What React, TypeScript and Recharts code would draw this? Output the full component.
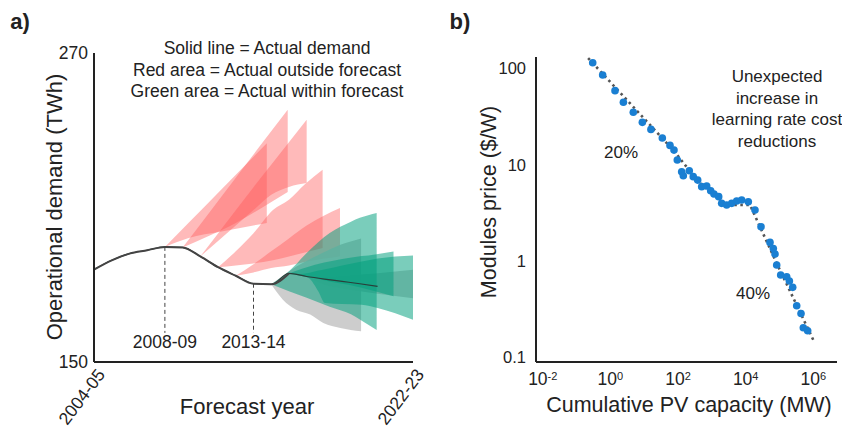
import {
  ComposedChart,
  Area,
  Line,
  Scatter,
  XAxis,
  YAxis,
  ReferenceLine,
} from 'recharts';

// ---------- panel a: demand forecasts ----------
// x = years since 2004-05, values in TWh
const yearTicks = ['2004-05', '2022-23'];
const actualDemand = [
  185.9, 189.5, 192.1, 193.4, 194.7, 194.5, 191.0, 186.8, 183.5, 180.4, 180.2, 184.4, 183.2,
  182.2, 181.3, 180.4, 179.4,
];

// [x, low, high]
const red1 = [[4, 194.7, 194.7], [5.3, 198.1, 203.8], [7.2, 200.7, 217.1], [9.75, 204, 235]];
const red2 = [[5, 194.5, 194.5], [6.5, 199, 208], [8, 204, 221.6], [9.5, 210, 235.1], [10.93, 216, 248]];
const red3 = [[6, 191, 191], [7, 197, 199.9], [8, 203, 208.9], [9, 209, 217.9], [10, 215, 226.6], [11, 218, 235.3], [12, 219.5, 244.1]];
const red4 = [[7, 186.8, 186.8], [8, 187.5, 193], [9, 188.3, 200], [10.1, 189.5, 209], [11, 191, 213], [11.9, 192.5, 219], [12.9, 194.3, 224.7]];
const red5 = [[8, 183.5, 183.5], [9, 184.8, 188], [10, 186.5, 193], [11, 187.5, 198], [12, 189, 203], [13.88, 191, 209.8]];
const grey1 = [[10, 180.2, 180.2], [10.66, 174.2, 183.5], [11.4, 170.3, 187], [12.2, 168.4, 190], [12.94, 165.1, 192.5], [13.9, 163.2, 195.5], [15.07, 161.9, 198]];
const grey2 = [[12, 183.2, 183.2], [13, 180, 183], [14, 178.5, 183.5], [16, 176.5, 184.5], [18, 174.8, 185.8]];
const green1 = [[10, 180.2, 180.2], [11, 177.5, 185.2], [12, 175, 192.3], [13.3, 171.5, 200.1], [14.5, 168.5, 204.5], [15, 166.5, 206], [15.95, 162.4, 207.9]];
const green2 = [[11.3, 184, 184], [12.1, 182.6, 184.6], [12.66, 177.4, 185.5], [13.04, 172.9, 186], [14, 172.5, 187.5], [15.1, 172.2, 189], [16, 171, 190.2], [18, 166.4, 191.4]];
const green3 = [[11, 184.4, 184.4], [12.47, 182.5, 187.8], [13.5, 181, 189.3], [14.35, 180, 190.4], [15.86, 177.5, 191.7], [16.9, 175.5, 192.9]];

const RED = '#ff5a5a';
const GREEN = '#00a07c';
const GREY = '#c4c4c4';

const bands = [
  { key: 'red1', pts: red1, fill: RED, op: 0.42 },
  { key: 'red2', pts: red2, fill: RED, op: 0.42 },
  { key: 'red3', pts: red3, fill: RED, op: 0.42 },
  { key: 'red4', pts: red4, fill: RED, op: 0.42 },
  { key: 'red5', pts: red5, fill: RED, op: 0.42 },
  { key: 'grey1', pts: grey1, fill: GREY, op: 0.85 },
  { key: 'grey2', pts: grey2, fill: GREY, op: 0.85 },
  { key: 'green1', pts: green1, fill: GREEN, op: 0.52 },
  { key: 'green2', pts: green2, fill: GREEN, op: 0.52 },
  { key: 'green3', pts: green3, fill: GREEN, op: 0.52 },
];

const buildRows = () => {
  const xs = new Set<number>();
  actualDemand.forEach((_, i) => xs.add(i));
  bands.forEach((b) => b.pts.forEach((p) => xs.add(p[0])));
  return [...xs]
    .sort((a, b) => a - b)
    .map((x) => {
      const row: Record<string, any> = { x };
      if (Number.isInteger(x) && x < actualDemand.length) {
        row.actual = actualDemand[x];
        if (x <= 11) row.actualTop = actualDemand[x];
      }
      bands.forEach((b) => {
        const p = b.pts.find((q) => q[0] === x);
        if (p) row[b.key] = [p[1], p[2]];
      });
      return row;
    });
};
const demandRows = buildRows();

// ---------- panel b: PV learning curve ----------
// cumulative capacity (MW) vs module price ($/W)
const pvCapacity = [
  0.3, 0.59, 1.37, 2.42, 4.75, 8.8, 15.8, 34.3, 57.8, 75.9, 95, 128, 143, 215, 282, 381, 500, 703,
  923, 1156, 1592, 1950, 2742, 3855, 5420, 7620, 11970, 18840, 28380, 52360, 65610, 73620, 82600,
  108400, 163300, 195900, 245500, 322800, 432500, 505800, 680700,
];
const pvPrice = [
  115, 85.7, 58.9, 44.6, 35.1, 27.6, 23.3, 19.0, 15.9, 14.2, 11.2, 8.47, 7.69, 8.67, 7.52, 6.93,
  5.92, 6.01, 5.37, 4.97, 4.66, 3.97, 3.82, 3.97, 4.2, 4.31, 4.13, 3.39, 2.27, 1.56, 1.35, 1.18,
  0.908, 0.714, 0.685, 0.619, 0.532, 0.343, 0.285, 0.202, 0.188,
];
const trendCapacity = [0.126, 72.4, 397, 2748, 13430, 82600, 1000000];
const trendPrice = [158.5, 14.2, 6.67, 3.82, 3.82, 0.946, 0.151];
const pvTicks = [0.01, 1, 100, 10000, 1000000];
const priceTicks = [0.1, 1, 10, 100];

const pvPoints = pvCapacity.map((x, i) => ({ x, y: pvPrice[i] }));
const trendPoints = trendCapacity.map((x, i) => ({ x, y: trendPrice[i] }));

const FONT = '"Liberation Sans", Arial, sans-serif';
const INK = '#222';

const YearTick = ({ x, y, payload }: any) => {
  const label = payload.value === 0 ? yearTicks[0] : yearTicks[1];
  const ax = x + 7;
  const ay = y + 1;
  return (
    <text
      x={ax}
      y={ay}
      dy="0.35em"
      textAnchor="end"
      transform={`rotate(-53, ${ax}, ${ay})`}
      fontSize={17.5}
      fill={INK}
      fontFamily={FONT}
    >
      {label}
    </text>
  );
};

const PowTick = ({ x, y, payload }: any) => {
  const exp = Math.round(Math.log10(payload.value));
  return (
    <text x={x} y={y + 15} textAnchor="middle" fontSize={17.5} fill={INK} fontFamily={FONT}>
      <tspan>10</tspan>
      <tspan dy={-5.5} fontSize={11}>
        {exp}
      </tspan>
    </text>
  );
};

const Dot = (props: any) => <circle cx={props.cx} cy={props.cy} r={3.8} fill="#1a7fd2" />;

const txt = (
  x: number,
  y: number,
  size: number,
  content: React.ReactNode,
  extra: React.CSSProperties = {},
) => (
  <div
    style={{
      position: 'absolute',
      left: x,
      top: y,
      transform: 'translate(-50%, -50%)',
      fontSize: size,
      color: INK,
      whiteSpace: 'nowrap',
      lineHeight: 1,
      ...extra,
    }}
  >
    {content}
  </div>
);

const App = () => {
  return (
    <div
      style={{
        position: 'absolute',
        left: 0,
        top: 0,
        width: 842,
        height: 427,
        overflow: 'hidden',
        background: '#fff',
        fontFamily: FONT,
      }}
    >
      <div style={{ position: 'absolute', left: 0, top: 0 }}>
        <ComposedChart
          width={430}
          height={427}
          data={demandRows}
          margin={{ top: 53, right: 17, bottom: 35, left: 54 }}
        >
          <XAxis
            dataKey="x"
            type="number"
            domain={[0, 18]}
            ticks={[0, 18]}
            height={30}
            tickLine={false}
            axisLine={{ stroke: INK, strokeWidth: 2 }}
            tick={<YearTick />}
            interval={0}
          />
          <YAxis
            type="number"
            domain={[150, 270]}
            ticks={[150, 270]}
            width={40}
            tickLine={false}
            tickSize={0}
            tickMargin={6}
            axisLine={{ stroke: INK, strokeWidth: 2 }}
            tick={{ fontSize: 17.5, fill: INK, fontFamily: FONT }}
            interval={0}
          />
          {bands.slice(0, 7).map((b) => (
            <Area
              key={b.key}
              dataKey={b.key}
              type="monotone"
              stroke="none"
              fill={b.fill}
              fillOpacity={b.op}
              connectNulls
              dot={false}
              activeDot={false}
              isAnimationActive={false}
            />
          ))}
          <Line
            dataKey="actual"
            type="monotone"
            stroke="#2a3f3a"
            strokeWidth={1.2}
            dot={false}
            activeDot={false}
            connectNulls
            isAnimationActive={false}
          />
          {bands.slice(7).map((b) => (
            <Area
              key={b.key}
              dataKey={b.key}
              type="monotone"
              stroke="none"
              fill={b.fill}
              fillOpacity={b.op}
              connectNulls
              dot={false}
              activeDot={false}
              isAnimationActive={false}
            />
          ))}
          <Line
            dataKey="actualTop"
            type="monotone"
            stroke="#444"
            strokeWidth={2}
            dot={false}
            activeDot={false}
            connectNulls
            isAnimationActive={false}
          />
          <ReferenceLine
            segment={[
              { x: 4, y: actualDemand[4] },
              { x: 4, y: 161.3 },
            ]}
            stroke="#444"
            strokeDasharray="4 3"
            strokeWidth={1}
            label={{ value: '2008-09', position: 'bottom', offset: 3, fontSize: 17.5, fill: INK }}
          />
          <ReferenceLine
            segment={[
              { x: 9, y: actualDemand[9] },
              { x: 9, y: 161.3 },
            ]}
            stroke="#444"
            strokeDasharray="4 3"
            strokeWidth={1}
            label={{ value: '2013-14', position: 'bottom', offset: 3, fontSize: 17.5, fill: INK }}
          />
        </ComposedChart>
      </div>

      <div style={{ position: 'absolute', left: 430, top: 0 }}>
        <ComposedChart width={412} height={427} margin={{ top: 57, right: 5, bottom: 35, left: 66 }}>
          <XAxis
            dataKey="x"
            type="number"
            scale="log"
            domain={[Math.pow(10, -2.2), Math.pow(10, 6.7)]}
            allowDataOverflow
            ticks={pvTicks}
            height={30}
            tickLine={false}
            axisLine={{ stroke: INK, strokeWidth: 2 }}
            tick={<PowTick />}
            interval={0}
          />
          <YAxis
            dataKey="y"
            type="number"
            scale="log"
            domain={[Math.pow(10, -1.05), Math.pow(10, 2.12)]}
            allowDataOverflow
            ticks={priceTicks}
            width={40}
            tickLine={false}
            tickSize={0}
            tickMargin={10}
            axisLine={{ stroke: INK, strokeWidth: 2 }}
            tick={{ fontSize: 16.5, fill: INK, fontFamily: FONT }}
            tickFormatter={(v: number) => String(v)}
            interval={0}
          />
          <Scatter data={pvPoints} shape={<Dot />} isAnimationActive={false} />
          <Line
            data={trendPoints}
            dataKey="y"
            type="linear"
            stroke="#555"
            strokeWidth={2.6}
            strokeDasharray="2.5 3.5"
            dot={false}
            activeDot={false}
            isAnimationActive={false}
          />
        </ComposedChart>
      </div>

      {txt(20, 22, 22, 'a)', { fontWeight: 'bold' })}
      {txt(460, 22, 22, 'b)', { fontWeight: 'bold' })}
      {txt(267, 49, 17.5, 'Solid line = Actual demand')}
      {txt(267, 71, 17.5, 'Red area = Actual outside forecast')}
      {txt(267, 92, 17.5, 'Green area = Actual within forecast')}
      {txt(55, 207, 22, 'Operational demand (TWh)', {
        transform: 'translate(-50%, -50%) rotate(-90deg)',
      })}
      {txt(247, 407, 22, 'Forecast year')}
      {txt(490, 202, 21.5, 'Modules price ($/W)', {
        transform: 'translate(-50%, -50%) rotate(-90deg)',
      })}
      {txt(689, 406, 21.5, 'Cumulative PV capacity (MW)')}
      {txt(777, 76, 17, 'Unexpected')}
      {txt(777, 98, 17, 'increase in')}
      {txt(777, 119, 17, 'learning rate cost')}
      {txt(777, 141, 17, 'reductions')}
      {txt(621, 152, 17, '20%')}
      {txt(753, 293, 17, '40%')}
    </div>
  );
};

export default App;
